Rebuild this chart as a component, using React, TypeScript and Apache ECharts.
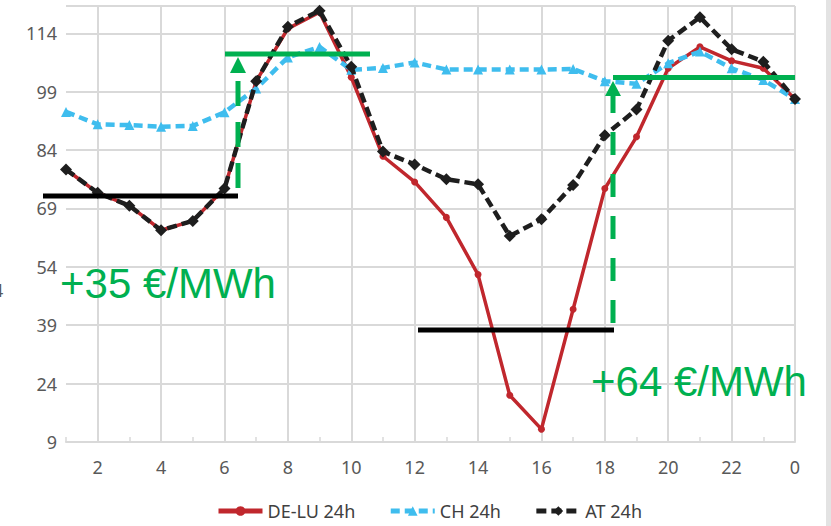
import React, { useEffect, useRef } from "react";
import * as echarts from "echarts";

const hours = ["1", "2", "3", "4", "5", "6", "7", "8", "9", "10", "11", "12", "13", "14", "15", "16", "17", "18", "19", "20", "21", "22", "23", "0"];
const deLu = [79.0, 73.0, 69.7, 63.4, 65.8, 74.1, 101.7, 115.2, 119.4, 102.7, 82.4, 75.8, 66.7, 52.0, 21.0, 12.3, 43.1, 74.1, 87.4, 105.0, 110.5, 106.9, 105.0, 97.1];
const ch = [93.8, 90.6, 90.4, 90.0, 90.2, 93.7, 99.8, 107.8, 110.5, 104.6, 105.1, 106.5, 104.7, 104.7, 104.7, 104.7, 104.8, 101.7, 101.0, 106.3, 109.3, 105.0, 102.0, 97.1];
const at = [79.0, 73.0, 69.7, 63.4, 65.8, 74.1, 101.7, 115.7, 119.8, 105.4, 83.6, 80.3, 76.5, 75.2, 61.9, 66.2, 75.0, 87.8, 94.4, 112.1, 118.1, 109.9, 106.7, 97.1];
const seriesNames = ["DE-LU 24h", "CH 24h", "AT 24h"];
const annotationTexts = ["+35 €/MWh", "+64 €/MWh"];

const GREEN = "#00b050";
const GRID = "#d9d9d9";
const RED = "#c0272d";
const BLUE = "#3fbdee";
const BLACK = "#1e1e1e";

export default function App() {
  const ref = useRef<HTMLDivElement>(null);
  useEffect(() => {
    document.body.style.margin = "0";
    const chart = echarts.init(ref.current!, null, { renderer: "svg" });
    const labelFont = "'Noto Sans', 'Open Sans', sans-serif";
    chart.setOption({
      animation: false,
      backgroundColor: "#ffffff",
      grid: { left: 66, right: 36, top: 6, bottom: 84, containLabel: false },
      legend: {
        left: 211,
        bottom: 1,
        itemWidth: 44,
        itemHeight: 12,
        itemGap: 33,
        data: [
          { name: seriesNames[0], lineStyle: { width: 5 } },
          { name: seriesNames[1], lineStyle: { width: 5 } },
          { name: seriesNames[2], lineStyle: { width: 5 } },
        ],
        textStyle: { fontSize: 18, color: "#404040", fontFamily: labelFont },
      },
      xAxis: {
        type: "category",
        data: hours,
        boundaryGap: false,
        axisLine: { show: true, lineStyle: { color: GRID, width: 2 } },
        axisTick: { show: true, inside: true, length: 5, interval: 0, lineStyle: { color: GRID, width: 1.5 } },
        axisLabel: {
          interval: (i: number) => i % 2 === 1,
          margin: 16,
          fontSize: 18,
          color: "#595959",
          fontFamily: labelFont,
        },
        splitLine: {
          show: true,
          interval: (i: number) => i % 2 === 1,
          lineStyle: { color: GRID, width: 2 },
        },
      },
      yAxis: {
        type: "value",
        min: 9,
        max: 121,
        interval: 15,
        axisLine: { show: false },
        axisTick: { show: false },
        axisLabel: { showMaxLabel: false, margin: 9, fontSize: 18, color: "#595959", fontFamily: labelFont },
        splitLine: { show: true, lineStyle: { color: GRID, width: 2 } },
      },
      series: [
        {
          name: seriesNames[0],
          type: "line",
          data: deLu,
          symbol: "circle",
          symbolSize: 7,
          itemStyle: { color: RED },
          lineStyle: { color: RED, width: 3.5 },
          z: 2,
        },
        {
          name: seriesNames[1],
          type: "line",
          data: ch,
          symbol: "triangle",
          symbolSize: 10,
          itemStyle: { color: BLUE },
          lineStyle: { color: BLUE, width: 4.5, type: [9, 5] },
          z: 3,
        },
        {
          name: seriesNames[2],
          type: "line",
          data: at,
          symbol: "diamond",
          symbolSize: 12,
          itemStyle: { color: BLACK },
          lineStyle: { color: BLACK, width: 4.5, type: [10, 5] },
          z: 4,
        },
      ],
      graphic: [
        { type: "rect", left: 826, top: 0, z: 100, shape: { width: 5, height: 526 }, style: { fill: "#e3e3e3" } },
        { type: "text", x: -7, y: 290, z: 100, style: { text: "4", fontSize: 18, fill: "#595959", fontFamily: labelFont, verticalAlign: "middle" } },
        // first annotation
        { type: "line", z: 100, shape: { x1: 43, y1: 196, x2: 238, y2: 196 }, style: { stroke: "#000", lineWidth: 5 } },
        { type: "line", z: 100, shape: { x1: 225, y1: 54, x2: 370, y2: 54 }, style: { stroke: GREEN, lineWidth: 5 } },
        { type: "line", z: 100, shape: { x1: 238, y1: 188, x2: 238, y2: 72 }, style: { stroke: GREEN, lineWidth: 5, lineDash: [25, 16] } },
        { type: "polygon", z: 100, shape: { points: [[230, 73], [246, 73], [238, 57]] }, style: { fill: GREEN } },
        { type: "text", z: 100, x: 60, y: 283, style: { text: annotationTexts[0], fontSize: 42, fill: GREEN, fontFamily: "'Liberation Sans', Arial, sans-serif", verticalAlign: "middle" } },
        // second annotation
        { type: "line", z: 100, shape: { x1: 418, y1: 330, x2: 614, y2: 330 }, style: { stroke: "#000", lineWidth: 5 } },
        { type: "line", z: 100, shape: { x1: 613, y1: 77.5, x2: 795, y2: 77.5 }, style: { stroke: GREEN, lineWidth: 5 } },
        { type: "line", z: 100, shape: { x1: 613, y1: 323, x2: 613, y2: 96 }, style: { stroke: GREEN, lineWidth: 5, lineDash: [23, 19] } },
        { type: "polygon", z: 100, shape: { points: [[605, 96], [621, 96], [613, 81]] }, style: { fill: GREEN } },
        { type: "text", z: 100, x: 591, y: 381, style: { text: annotationTexts[1], fontSize: 42, fill: GREEN, fontFamily: "'Liberation Sans', Arial, sans-serif", verticalAlign: "middle" } },
      ],
    });
    return () => chart.dispose();
  }, []);
  return <div ref={ref} style={{ width: 831, height: 526 }} />;
}
